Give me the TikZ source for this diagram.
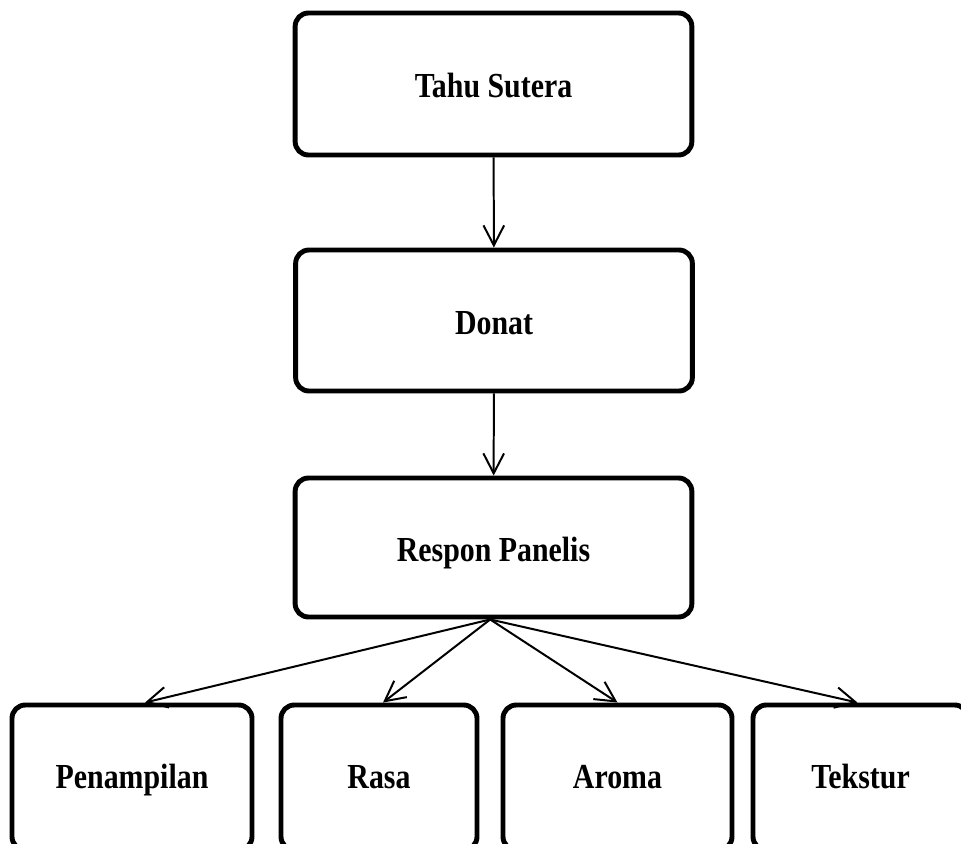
\documentclass[tikz,border=0pt]{standalone}
\usepackage{fontspec}
\setmainfont{Liberation Serif}[FakeStretch=0.85]
\usetikzlibrary{arrows.meta}
\begin{document}
\begin{tikzpicture}[x=0.03cm,y=-0.03cm,
    box/.style={draw,line width=4.2pt,rounded corners=0.4cm,align=center,
      text height=23.8pt,text depth=0pt,
      font=\bfseries\fontsize{30}{36}\selectfont},
    leaf/.style={box,text height=18pt,minimum height=4.35cm},
    link/.style={line width=1.7pt,-{Straight Barb[length=0.6cm,width=0.62cm]}}]
  \useasboundingbox (0,0) rectangle (961,843);
  \clip (0,0) rectangle (961,843);
  \draw
    (493.5,84) node[box,minimum width=11.9cm,minimum height=4.26cm] (tahu){Tahu Sutera}
    (494,320.5) node[box,minimum width=11.9cm,minimum height=4.23cm] (donat){Donat}
    (493.5,547.5) node[box,minimum width=11.9cm,minimum height=4.17cm] (respon){Respon Panelis}
    (132,777.5) node[leaf,minimum width=7.2cm] (penampilan){Penampilan}
    (379,777.5) node[leaf,minimum width=5.88cm] (rasa){Rasa}
    (617.5,777.5) node[leaf,minimum width=6.87cm] (aroma){Aroma}
    (860.5,777.5) node[leaf,minimum width=6.45cm] (tekstur){Tekstur};
  \begin{scope}[link]
    \draw (tahu) to (donat);
    \draw (donat) to (respon);
    \draw ([xshift=-0.1cm]respon.south) to ([xshift=0.39cm]penampilan.north);
    \draw ([xshift=-0.1cm]respon.south) to ([xshift=0.12cm]rasa.north);
    \draw ([xshift=-0.1cm]respon.south) to (aroma.north);
    \draw ([xshift=-0.1cm]respon.south) to ([xshift=-0.09cm]tekstur.north);
  \end{scope}
\end{tikzpicture}
\end{document}
